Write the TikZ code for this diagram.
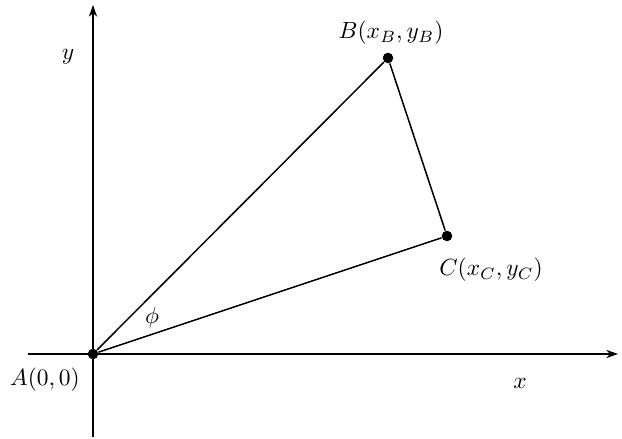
\documentclass[tikz,border=0pt]{standalone}
\usetikzlibrary{arrows.meta}
\begin{document}
\begin{tikzpicture}[x=0.015cm,y=-0.015cm,
  axis/.style={line width=0.75pt,-{Stealth[length=5pt,width=3.5pt]}},
  edge/.style={line width=0.65pt},
  pt/.style={circle,fill=black,inner sep=0pt,minimum size=4.5pt},
  lbl/.style={inner sep=0pt}]
\useasboundingbox (0,0) rectangle (622,439);
\coordinate (xs) at (28,354);
\coordinate (xe) at (618,354);
\coordinate (ys) at (93,437);
\coordinate (ye) at (93,5);
\draw[axis] (xs) -- (xe);
\draw[axis] (ys) -- (ye);
\node[pt] (A) at (93,354) {};
\node[pt] (B) at (388,58) {};
\node[pt] (C) at (447,236) {};
\draw[edge] (A) -- (B) -- (C) -- (A);
\node[lbl] (la) at (45,380) {$A(0,0)$};
\node[lbl] (lb) at (391,33) {$B(x_B,y_B)$};
\node[lbl] (lc) at (491,270) {$C(x_C,y_C)$};
\node[lbl] (phi) at (152,318) {$\phi$};
\node[lbl] (lx) at (520,383) {$x$};
\node[lbl] (ly) at (68,57) {$y$};
\end{tikzpicture}
\end{document}
